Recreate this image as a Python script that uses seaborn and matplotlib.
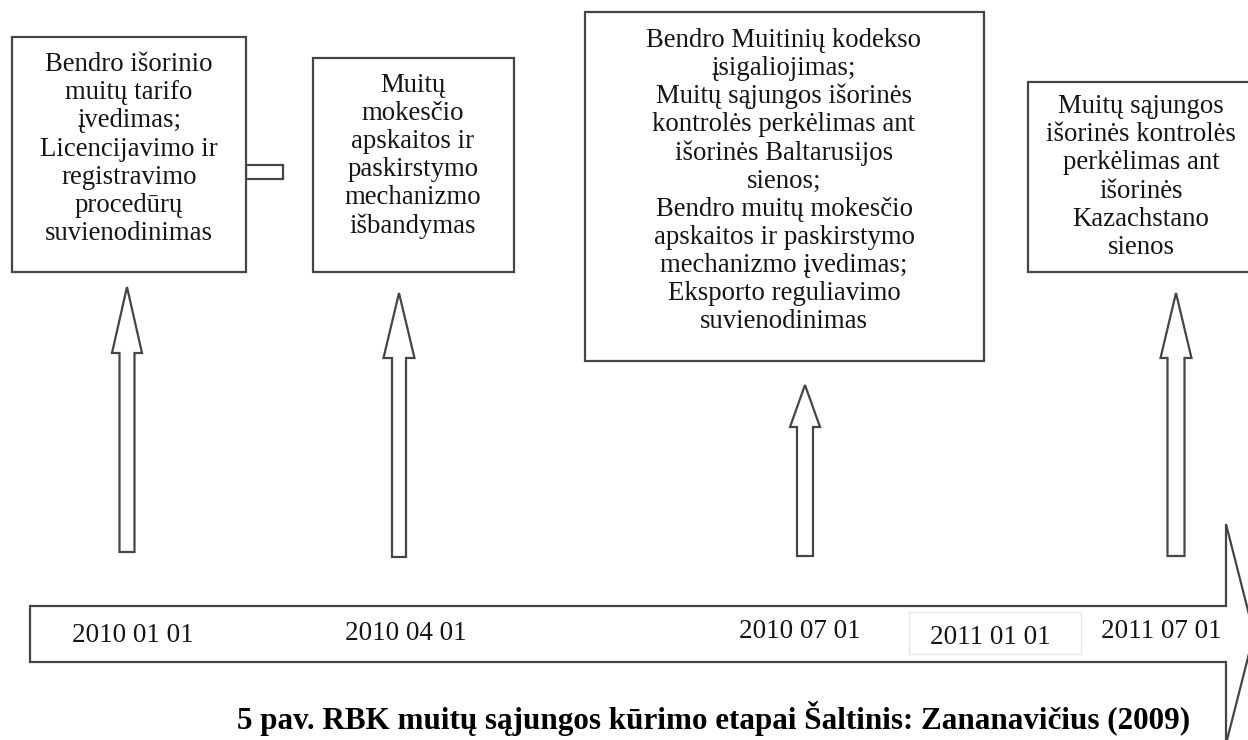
import matplotlib
matplotlib.use("Agg")
import matplotlib.pyplot as plt
from matplotlib.patches import Polygon, Rectangle
import seaborn as sns

# ---- data ----
dates = ["2010 01 01", "2010 04 01", "2010 07 01", "2011 01 01", "2011 07 01"]
events = [
    "Bendro išorinio\nmuitų tarifo\nįvedimas;\nLicencijavimo ir\nregistravimo\nprocedūrų\nsuvienodinimas",
    "Muitų\nmokesčio\napskaitos ir\npaskirstymo\nmechanizmo\nišbandymas",
    "Bendro Muitinių kodekso\nįsigaliojimas;\nMuitų sąjungos išorinės\nkontrolės perkėlimas ant\nišorinės Baltarusijos\nsienos;\nBendro muitų mokesčio\napskaitos ir paskirstymo\nmechanizmo įvedimas;\nEksporto reguliavimo\nsuvienodinimas",
    "Muitų sąjungos\nišorinės kontrolės\nperkėlimas ant\nišorinės\nKazachstano\nsienos",
]
caption = "5 pav. RBK muitų sąjungos kūrimo etapai Šaltinis: Zananavičius (2009)"

# ---- layout (pixel coordinates) ----
date_x = [133, 406, 800, 990, 1161]
date_y = [635, 633, 632, 637, 632]
boxes = [(12, 37, 246, 272), (313, 58, 514, 272), (585, 12, 984, 361), (1028, 82, 1256, 272)]
box_text_xy = [(129, 149), (413, 156), (784, 181), (1141, 177)]
arrows = [(127, 287, 353, 15, 7.5, 552), (399, 293, 358, 15.5, 7, 557),
          (805, 385, 427, 15, 8, 556), (1176, 293, 358, 15.5, 8.5, 556)]

sns.set_theme(style="white")
plt.rcParams["font.family"] = ["Liberation Serif", "DejaVu Serif"]

fig = plt.figure(figsize=(12.48, 7.40), dpi=100)
ax = fig.add_axes([0, 0, 1, 1])
ax.set_xlim(0, 1248)
ax.set_ylim(740, 0)
ax.axis("off")

edge = "#454545"
txt = "#151515"

tl = [(30, 606), (1226, 606), (1226, 524), (1254, 634), (1226, 744), (1226, 662), (30, 662)]
ax.add_patch(Polygon(tl, closed=True, facecolor="white", edgecolor=edge, lw=1.6, joinstyle="miter", zorder=1))

ax.add_patch(Rectangle((246, 165), 37, 14, facecolor="white", edgecolor=edge, lw=1.6, zorder=2))

for (x0, y0, x1, y1), (tx, ty), label in zip(boxes, box_text_xy, events):
    ax.add_patch(Rectangle((x0, y0), x1 - x0, y1 - y0, facecolor="white", edgecolor=edge, lw=1.6, zorder=3))
    ax.text(tx, ty, label, ha="center", va="center", fontsize=19.3, color=txt,
            linespacing=1.16, zorder=4)

for tipx, tipy, hb, hh, sh, bot in arrows:
    pts = [(tipx, tipy), (tipx + hh, hb), (tipx + sh, hb), (tipx + sh, bot),
           (tipx - sh, bot), (tipx - sh, hb), (tipx - hh, hb)]
    ax.add_patch(Polygon(pts, closed=True, facecolor="white", edgecolor=edge, lw=1.6, joinstyle="miter", zorder=2))

ax.add_patch(Rectangle((909, 612), 172, 42, facecolor="none", edgecolor="#e6e6e6", lw=1.0, zorder=2))

for x, y, d in zip(date_x, date_y, dates):
    ax.text(x, y, d, ha="center", va="center", fontsize=19.5, color=txt, zorder=4)

ax.text(714, 718, caption, ha="center", va="center", fontsize=22.4, fontweight="bold", color="#000000", zorder=4)

fig.savefig("out.png", dpi=100)
